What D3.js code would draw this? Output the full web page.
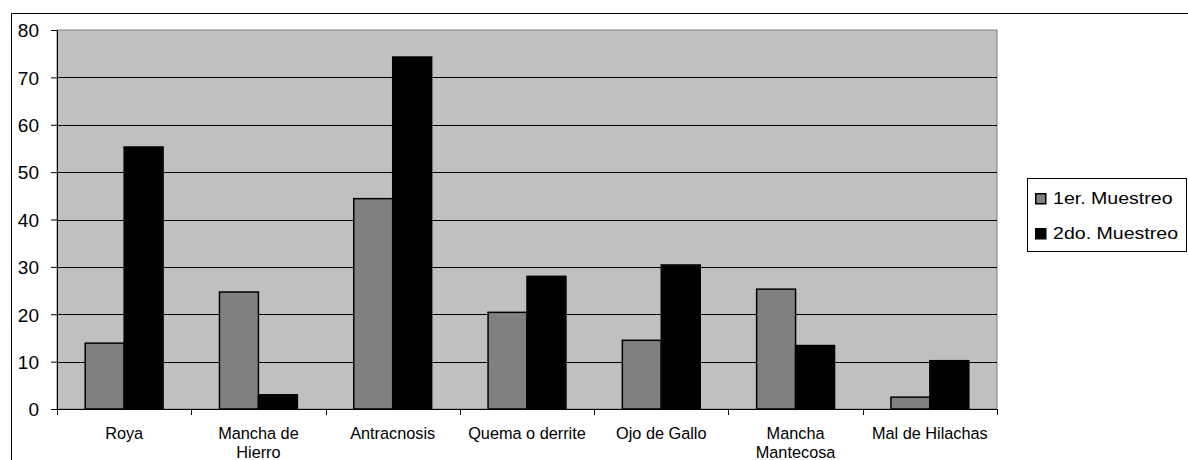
<!DOCTYPE html>
<html>
<head>
<meta charset="utf-8">
<script src="https://cdn.jsdelivr.net/npm/d3@7"></script>
<style>
  html, body { margin: 0; padding: 0; background: #fff; }
  svg { display: block; font-family: "Liberation Sans", Arial, sans-serif; }
</style>
</head>
<body>
<svg id="chart" width="1188" height="460"></svg>
<script>
// Disease incidence per sampling round
const categories = ["Roya", "Mancha de Hierro", "Antracnosis", "Quema o derrite", "Ojo de Gallo", "Mancha Mantecosa", "Mal de Hilachas"];
const categoryLines = [["Roya"], ["Mancha de", "Hierro"], ["Antracnosis"], ["Quema o derrite"], ["Ojo de Gallo"], ["Mancha", "Mantecosa"], ["Mal de Hilachas"]];
const seriesNames = ["1er. Muestreo", "2do. Muestreo"];
const muestreo1 = [13.9, 24.7, 44.4, 20.4, 14.5, 25.3, 2.5];
const muestreo2 = [55.3, 3.0, 74.3, 28.0, 30.4, 13.4, 10.2];
const yTicks = [0, 10, 20, 30, 40, 50, 60, 70, 80];
const seriesColors = ["#808080", "#000000"];

const svg = d3.select("#chart");
const plot = { left: 57, top: 30, right: 997, bottom: 409 };

// chart frame
svg.append("path")
  .attr("d", "M11.5,460 V13.5 H1188")
  .attr("fill", "none").attr("stroke", "#000").attr("stroke-width", 1);

const x0 = d3.scaleBand().domain(categories).range([plot.left, plot.right]).paddingInner(0).paddingOuter(0);
const x1 = d3.scaleBand().domain(seriesNames)
  .range([x0.bandwidth() * 0.21, x0.bandwidth() * 0.79]);
const y = d3.scaleLinear().domain([0, 80]).range([plot.bottom, plot.top]);

// plot background
svg.append("rect")
  .attr("x", plot.left).attr("y", plot.top)
  .attr("width", plot.right - plot.left).attr("height", plot.bottom - plot.top)
  .attr("fill", "#c0c0c0").attr("stroke", "#808080").attr("stroke-width", 1);

// gridlines
svg.append("g").selectAll("line")
  .data(yTicks.filter(t => t > 0 && t < 80))
  .join("line")
  .attr("x1", plot.left).attr("x2", plot.right)
  .attr("y1", d => Math.round(y(d)) + 0.5).attr("y2", d => Math.round(y(d)) + 0.5)
  .attr("stroke", "#000").attr("stroke-width", 1);

// bars
const data = categories.map((c, i) => ({ cat: c, vals: [muestreo1[i], muestreo2[i]] }));
const groups = svg.append("g").selectAll("g")
  .data(data).join("g")
  .attr("transform", d => `translate(${x0(d.cat)},0)`);
groups.selectAll("rect")
  .data(d => d.vals.map((v, j) => ({ s: seriesNames[j], v, j })))
  .join("rect")
  .attr("x", d => x1(d.s))
  .attr("y", d => y(d.v))
  .attr("width", x1.bandwidth())
  .attr("height", d => y(0) - y(d.v))
  .attr("fill", d => seriesColors[d.j])
  .attr("stroke", "#000").attr("stroke-width", 1.5);

// y axis
const yAxis = svg.append("g")
  .attr("transform", `translate(${plot.left},0)`)
  .call(d3.axisLeft(y).tickValues(yTicks).tickSize(6).tickPadding(18));
yAxis.select(".domain").attr("stroke", "#000");
yAxis.selectAll(".tick line").attr("stroke", "#000");
yAxis.selectAll(".tick text")
  .attr("x", -18).attr("dy", "0.36em")
  .attr("font-size", 19).attr("fill", "#000");

// x axis
const xAxis = svg.append("g")
  .attr("transform", `translate(0,${plot.bottom})`)
  .call(d3.axisBottom(x0).tickSize(0).tickFormat(""));
xAxis.select(".domain").attr("stroke", "#000");
xAxis.selectAll(".tick").remove();

// category boundary ticks
const bounds = categories.map(c => x0(c)).concat([x0.range()[1]]);
xAxis.selectAll("line.bound")
  .data(bounds).join("line").attr("class", "bound")
  .attr("x1", d => Math.round(d) + 0.5).attr("x2", d => Math.round(d) + 0.5)
  .attr("y1", 0).attr("y2", 6)
  .attr("stroke", "#000");

// category labels
const labels = xAxis.selectAll("text.lbl")
  .data(categories).join("text").attr("class", "lbl")
  .attr("text-anchor", "middle").attr("font-size", 16.3).attr("fill", "#000")
  .attr("transform", d => `translate(${x0(d) + x0.bandwidth() / 2},30)`);
labels.each(function (d, i) {
  categoryLines[i].forEach((line, k) => {
    d3.select(this).append("tspan").attr("x", 0).attr("y", k * 19).text(line);
  });
});

// legend
const legend = svg.append("g").attr("transform", "translate(1027,178)");
legend.append("rect")
  .attr("x", 0.5).attr("y", 0.5).attr("width", 159).attr("height", 73)
  .attr("fill", "#fff").attr("stroke", "#000");
const items = legend.selectAll("g.item")
  .data(seriesNames).join("g").attr("class", "item")
  .attr("transform", (d, i) => `translate(8,${15 + i * 35})`);
items.append("rect")
  .attr("x", 0.75).attr("y", 0.75).attr("width", 10).attr("height", 10)
  .attr("fill", (d, i) => seriesColors[i]).attr("stroke", "#000").attr("stroke-width", 1.5);
items.append("text")
  .attr("transform", "translate(18,10.5) scale(1.2,1)")
  .attr("font-size", 16.3).attr("fill", "#000")
  .text(d => d);
</script>
</body>
</html>
